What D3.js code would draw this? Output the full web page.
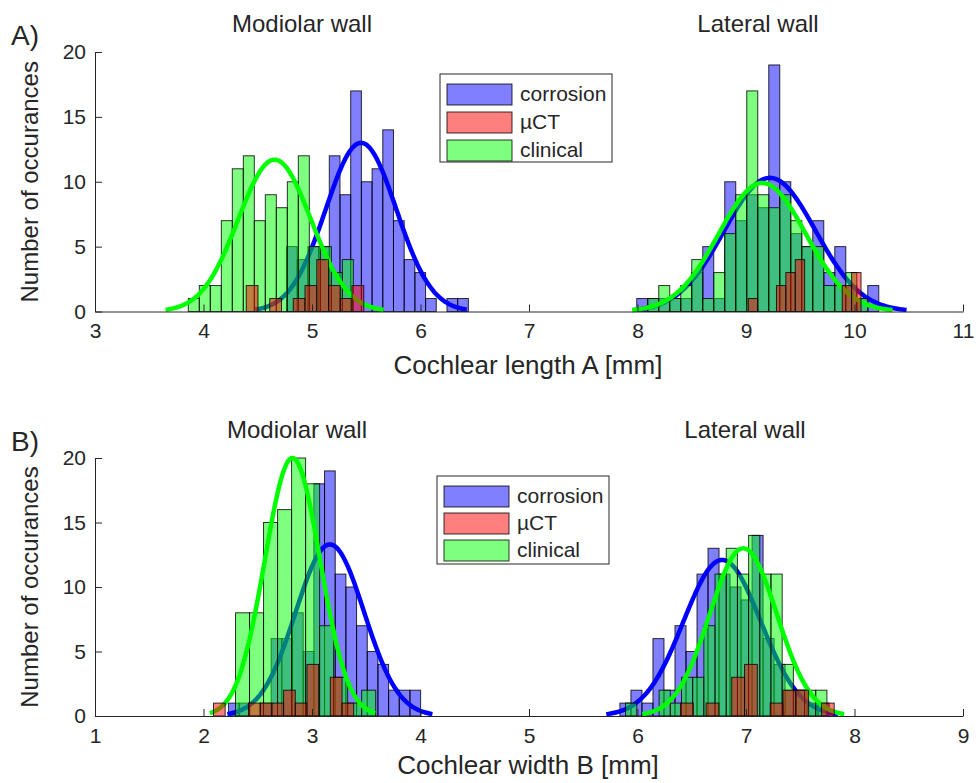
<!DOCTYPE html>
<html>
<head>
<meta charset="utf-8">
<script src="https://cdn.jsdelivr.net/npm/d3@7"></script>
<style>
  body { margin: 0; background: #fff; }
  text { font-family: "Liberation Sans", Arial, sans-serif; fill: #262626; }
</style>
</head>
<body>
<script>
// axis ticks
const lengthTicks = [3, 4, 5, 6, 7, 8, 9, 10, 11];
const widthTicks = [1, 2, 3, 4, 5, 6, 7, 8, 9];
const countTicks = [0, 5, 10, 15, 20];

const groups = ['corrosion', 'µCT', 'clinical'];

// A) cochlear length A [mm]
// bins = [first edge, bin width], counts per bin
const lenModCorrosionBins = [4.765, 0.0986];
const lenModCorrosion = [5, 4, 5, 5, 12, 9, 17, 10, 11, 14, 7, 4, 3, 1, 0, 1, 1];
const lenModMicroCTBins = [4.394, 0.1083];
const lenModMicroCT = [2, 0, 1, 0, 1, 2, 4, 2, 1, 2];
const lenModClinicalBins = [3.860, 0.1014];
const lenModClinical = [1, 2, 2, 7, 11, 12, 7, 9, 8, 10, 12, 5, 5, 3, 4];

const lenLatCorrosionBins = [7.993, 0.1014];
const lenLatCorrosion = [1, 1, 1, 1, 1, 3, 5, 1, 10, 7, 9, 8, 19, 10, 6, 5, 7, 3, 5, 2, 1, 2];
const lenLatMicroCTBins = [9.021, 0.0866];
const lenLatMicroCT = [1, 0, 0, 2, 3, 4, 0, 0, 0, 0, 2, 3];
const lenLatClinicalBins = [7.993, 0.1014];
const lenLatClinical = [0, 1, 2, 1, 2, 4, 1, 3, 6, 9, 17, 9, 8, 9, 7, 5, 5, 2, 2, 3, 1, 0];

// normal fits: [mean, sd, peak count]
const lenModCorrosionFit = [5.452, 0.325, 13.0];
const lenModClinicalFit = [4.655, 0.335, 11.7];
const lenLatCorrosionFit = [9.22, 0.42, 10.3];
const lenLatClinicalFit = [9.15, 0.40, 9.9];

// B) cochlear width B [mm]
const widModCorrosionBins = [2.230, 0.0984];
const widModCorrosion = [1, 1, 0, 1, 6, 6, 8, 5, 18, 19, 11, 10, 7, 5, 4, 2, 2, 2];
const widModMicroCTBins = [2.092, 0.1077];
const widModMicroCT = [1, 0, 0, 1, 1, 1, 2, 1, 4, 0, 3, 1];
const widModClinicalBins = [2.295, 0.1292];
const widModClinical = [8, 8, 15, 16, 20, 18, 7, 3, 1, 2];

const widLatCorrosionBins = [5.838, 0.1015];
const widLatCorrosion = [1, 2, 1, 6, 2, 7, 5, 11, 13, 11, 10, 9, 14, 6, 4, 2, 2, 1, 1];
const widLatMicroCTBins = [6.396, 0.1181];
const widLatMicroCT = [1, 0, 1, 0, 3, 4, 0, 1, 2, 2, 0, 1];
const widLatClinicalBins = [5.890, 0.1031];
const widLatClinical = [1, 0, 0, 2, 1, 3, 3, 7, 11, 13, 11, 14, 11, 11, 4, 2, 2, 2];

const widModCorrosionFit = [3.165, 0.315, 13.3];
const widModClinicalFit = [2.82, 0.254, 20.0];
const widLatCorrosionFit = [6.78, 0.356, 12.1];
const widLatClinicalFit = [6.975, 0.31, 13.0];

const color = d3.scaleOrdinal().domain(groups).range(['#0000ff', '#ff0000', '#00ff00']);
const axisColor = '#262626';

const svg = d3.select('body').append('svg')
  .attr('width', 979)
  .attr('height', 783);

svg.append('rect').attr('width', 979).attr('height', 783).attr('fill', '#fff');

function drawPanel(p) {
  const x = d3.scaleLinear().domain(p.domain).range([95, 963]);
  const y = d3.scaleLinear().domain([0, 20]).range([p.bottom, p.top]);
  const g = svg.append('g');

  const drawBars = (group) => {
    p.hist[group].forEach(([bins, counts]) => {
      const [start, w] = bins;
      const data = counts.map((c, i) => ({ x0: start + i * w, x1: start + (i + 1) * w, c }))
        .filter(d => d.c > 0);
      g.append('g').selectAll('rect')
        .data(data)
        .enter()
        .append('rect')
        .attr('x', d => x(d.x0))
        .attr('y', d => y(d.c))
        .attr('width', d => x(d.x1) - x(d.x0))
        .attr('height', d => y(0) - y(d.c))
        .attr('fill', color(group))
        .attr('fill-opacity', 0.5)
        .attr('stroke', '#000')
        .attr('stroke-opacity', 0.8)
        .attr('stroke-width', 1);
    });
  };

  const line = d3.line().x(d => x(d[0])).y(d => y(d[1]));
  const drawFit = (group) => {
    p.fit[group].forEach(([mu, sd, peak]) => {
      const pts = d3.range(0, 201).map(i => {
        const v = mu - 3 * sd + i * 6 * sd / 200;
        return [v, peak * Math.exp(-0.5 * ((v - mu) / sd) ** 2)];
      });
      g.append('path')
        .datum(pts)
        .attr('d', line)
        .attr('fill', 'none')
        .attr('stroke', color(group))
        .attr('stroke-width', 4.5);
    });
  };

  // same stacking as the original figure
  drawBars('corrosion');
  drawFit('corrosion');
  drawBars('clinical');
  drawFit('clinical');
  drawBars('µCT');

  // axes, ticks pointing inward
  const xAxis = g.append('g')
    .attr('transform', `translate(0,${y(0)})`)
    .call(d3.axisBottom(x).tickValues(p.ticks).tickSizeInner(-7).tickSizeOuter(0).tickPadding(12));
  const yAxis = g.append('g')
    .attr('transform', 'translate(95,0)')
    .call(d3.axisLeft(y).tickValues(countTicks).tickSizeInner(-7).tickSizeOuter(0).tickPadding(9));
  [xAxis, yAxis].forEach(a => {
    a.selectAll('path, line').attr('stroke', axisColor);
    a.selectAll('text')
      .style('font-size', '21px')
      .style('font-family', '"Liberation Sans", Arial, sans-serif')
      .attr('fill', axisColor);
  });

  // titles and labels
  g.append('text').attr('x', 11).attr('y', p.top - 7).style('font-size', '28px').text(p.letter);
  p.titles.forEach(([t, cx]) => {
    g.append('text').attr('x', cx).attr('y', p.top - 20)
      .attr('text-anchor', 'middle').style('font-size', '24px').text(t);
  });
  g.append('text')
    .attr('x', 528).attr('y', p.bottom + p.xLabelGap)
    .attr('text-anchor', 'middle').style('font-size', '26px').text(p.xLabel);
  g.append('text')
    .attr('transform', `translate(38,${(p.top + p.bottom) / 2}) rotate(-90)`)
    .attr('text-anchor', 'middle').style('font-size', '24px').text('Number of occurances');

  // legend
  const lg = g.append('g').attr('transform', `translate(${p.legend[0]},${p.legend[1]})`);
  lg.append('rect')
    .attr('width', 172).attr('height', 88)
    .attr('fill', '#fff').attr('stroke', axisColor).attr('stroke-width', 1);
  groups.forEach((grp, i) => {
    const cy = 20 + i * p.legend[2];
    lg.append('rect')
      .attr('x', 7).attr('y', cy - 10).attr('width', 65).attr('height', 21)
      .attr('fill', color(grp)).attr('fill-opacity', 0.5)
      .attr('stroke', '#000').attr('stroke-opacity', 0.8);
    lg.append('text')
      .attr('x', 80).attr('y', cy + 7)
      .style('font-size', '21px').text(grp);
  });
}

drawPanel({
  letter: 'A)',
  domain: [3, 11], ticks: lengthTicks,
  top: 52, bottom: 311.5,
  xLabel: 'Cochlear length A [mm]', xLabelGap: 62,
  titles: [['Modiolar wall', 302], ['Lateral wall', 758]],
  legend: [440, 74, 28],
  hist: {
    corrosion: [[lenModCorrosionBins, lenModCorrosion], [lenLatCorrosionBins, lenLatCorrosion]],
    'µCT': [[lenModMicroCTBins, lenModMicroCT], [lenLatMicroCTBins, lenLatMicroCT]],
    clinical: [[lenModClinicalBins, lenModClinical], [lenLatClinicalBins, lenLatClinical]]
  },
  fit: {
    corrosion: [lenModCorrosionFit, lenLatCorrosionFit],
    clinical: [lenModClinicalFit, lenLatClinicalFit]
  }
});

drawPanel({
  letter: 'B)',
  domain: [1, 9], ticks: widthTicks,
  top: 458, bottom: 716,
  xLabel: 'Cochlear width B [mm]', xLabelGap: 58,
  titles: [['Modiolar wall', 297], ['Lateral wall', 745]],
  legend: [437, 476, 27],
  hist: {
    corrosion: [[widModCorrosionBins, widModCorrosion], [widLatCorrosionBins, widLatCorrosion]],
    'µCT': [[widModMicroCTBins, widModMicroCT], [widLatMicroCTBins, widLatMicroCT]],
    clinical: [[widModClinicalBins, widModClinical], [widLatClinicalBins, widLatClinical]]
  },
  fit: {
    corrosion: [widModCorrosionFit, widLatCorrosionFit],
    clinical: [widModClinicalFit, widLatClinicalFit]
  }
});
</script>
</body>
</html>
